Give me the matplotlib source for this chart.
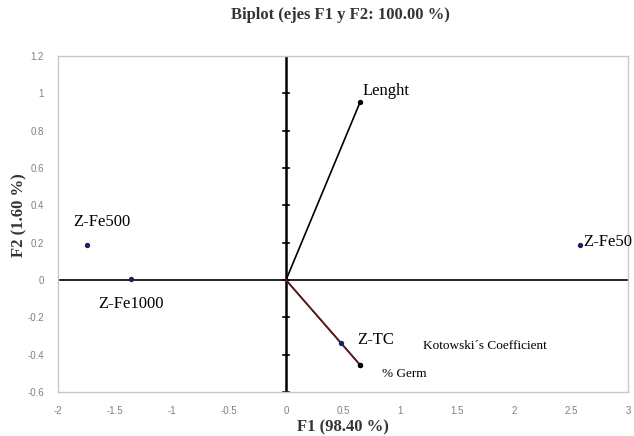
import matplotlib
matplotlib.use("Agg")
import matplotlib.pyplot as plt
import numpy as np

obs_names = ["Z-Fe500", "Z-Fe1000", "Z-Fe50", "Z-TC"]
obs_f1 = [-1.745, -1.36, 2.58, 0.48]
obs_f2 = [0.187, 0.008, 0.19, -0.34]

var_names = ["Lenght", "% Germ", "Kotowski\u00b4s Coefficient"]
var_f1 = [0.65, 0.65, 0.65]
var_f2 = [0.953, -0.455, -0.455]

xticks = [-2, -1.5, -1, -0.5, 0, 0.5, 1, 1.5, 2, 2.5, 3]
yticks = [-0.6, -0.4, -0.2, 0, 0.2, 0.4, 0.6, 0.8, 1, 1.2]

serif = "Liberation Serif"

fig = plt.figure(figsize=(6.34, 4.36), dpi=100)
ax = fig.add_axes([58/634, 44/436, 570/634, 336/436])
ax.set_xlim(-2, 3)
ax.set_ylim(-0.6, 1.2)
ax.set_xticks(xticks)
ax.set_yticks(yticks)
ax.set_xticklabels([f"{t:g}" for t in xticks], family="Liberation Sans")
ax.set_yticklabels([f"{t:g}" for t in yticks], family="Liberation Sans")
ax.tick_params(length=0, labelsize=7, colors="#808080", pad=10)
for s in ax.spines.values():
    s.set_color("#c8c8c8")
    s.set_linewidth(1)

# central axes
ax.axhline(0, color="black", lw=1.2, zorder=2)
ax.axvline(0, color="black", lw=1.8, zorder=2)
for t in yticks:
    ax.plot([-0.025, 0.025], [t, t], color="black", lw=1.2, zorder=2)

# variable vectors
colors = ["black", "#5a1a1a", "#5a1a1a"]
for xv, yv, c in zip(var_f1, var_f2, colors):
    ax.plot([0, xv], [0, yv], color=c, lw=1.2, zorder=3)
ax.scatter(var_f1, var_f2, s=8, color="black", zorder=4)

# observations
ax.scatter(obs_f1, obs_f2, s=8, color="#1c2260", zorder=4)

fs = 12
ax.text(obs_f1[0] - 0.123, obs_f2[0] + 0.123, obs_names[0], fontsize=fs, family=serif, va="center", ha="left")
ax.text(obs_f1[1] - 0.289, obs_f2[1] - 0.137, obs_names[1], fontsize=fs, family=serif, va="center", ha="left")
ax.text(obs_f1[2] + 0.025, obs_f2[2] + 0.014, obs_names[2], fontsize=fs, family=serif, va="center", ha="left")
ax.text(obs_f1[3] + 0.143, obs_f2[3] + 0.019, obs_names[3], fontsize=fs, family=serif, va="center", ha="left")

ax.text(var_f1[0] + 0.025, var_f2[0] + 0.059, var_names[0], fontsize=fs, family=serif, va="center", ha="left")
ax.text(var_f1[1] + 0.192, var_f2[1] - 0.048, var_names[1], fontsize=9.5, family=serif, va="center", ha="left")
ax.text(var_f1[2] + 0.552, var_f2[2] + 0.101, var_names[2], fontsize=9.5, family=serif, va="center", ha="left")

ax.set_xlabel("F1 (98.40 %)", fontsize=12, family=serif, fontweight="bold", color="#333333")
ax.set_ylabel("F2 (1.60 %)", fontsize=12, family=serif, fontweight="bold", color="#333333")
ax.xaxis.set_label_coords(0.5, (392 - 419) / 336)
ax.yaxis.set_label_coords((27 - 58) / 570, (392 - 215) / 336)
fig.text(340/634, 1 - 15/436, "Biplot (ejes F1 y F2: 100.00 %)", fontsize=12, family=serif,
         fontweight="bold", ha="center", va="center", color="#333333")

fig.savefig("out.png", dpi=100)
